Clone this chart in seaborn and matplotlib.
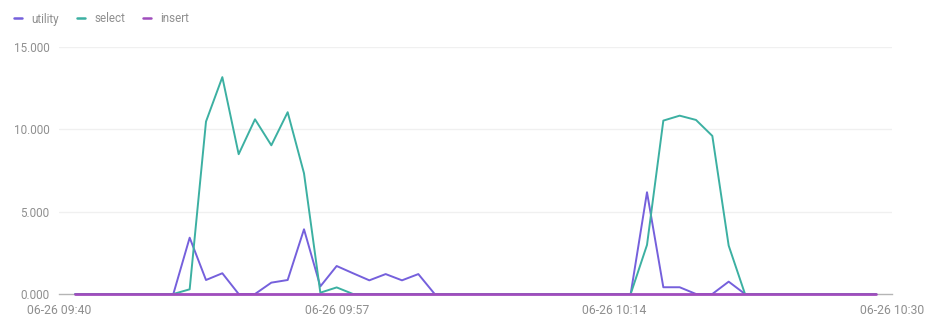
import matplotlib
matplotlib.use("Agg")
import matplotlib.pyplot as plt
from matplotlib.lines import Line2D
import seaborn as sns
import pandas as pd
import numpy as np

# ---- data (one point per minute, 09:41 .. 10:30) ----
times = [f"{h:02d}:{m:02d}" for h, m in
         [(9, mm) for mm in range(41, 60)] + [(10, mm) for mm in range(0, 31)]]

utility = [0, 0, 0, 0, 0, 0, 0, 3420, 850, 1260,
           0, 0, 690, 850, 3930, 460, 1700, 1260, 830, 1210,
           830, 1210, 0, 0, 0, 0, 0, 0, 0, 0,
           0, 0, 0, 0, 0, 6180, 410, 410, 0, 0,
           750, 0, 0, 0, 0, 0, 0, 0, 0, 0]
select = [0, 0, 0, 0, 0, 0, 0, 285, 10470, 13170,
          8490, 10610, 9030, 11040, 7330, 80, 400, 0, 0, 0,
          0, 0, 0, 0, 0, 0, 0, 0, 0, 0,
          0, 0, 0, 0, 0, 2980, 10530, 10830, 10570, 9600,
          2940, 0, 0, 0, 0, 0, 0, 0, 0, 0]
insert = [0] * 50

series_names = ["utility", "select", "insert"]
colors = ["#7560dc", "#3cb0a2", "#a04dbd"]
tick_labels = ["06-26 09:40", "06-26 09:57", "06-26 10:14", "06-26 10:30"]
y_ticks = [0, 5000, 10000, 15000]
y_tick_labels = ["0.000", "5.000", "10.000", "15.000"]

# ---- long-form table ----
pos = list(range(1, len(times) + 1))
df = pd.concat([
    pd.DataFrame({"pos": pos, "time": times, "value": vals, "series": name})
    for name, vals in zip(series_names, [utility, select, insert])
], ignore_index=True)

sns.set_style("white")
plt.rcParams["font.family"] = ["Roboto", "DejaVu Sans"]

W, H = 941, 326
fig = plt.figure(figsize=(W / 100, H / 100), dpi=100)
ax = fig.add_axes([59 / W, 32 / H, (892 - 59) / W, (294 - 47) / H])

sns.lineplot(data=df, x="pos", y="value", hue="series",
             hue_order=series_names, palette=dict(zip(series_names, colors)),
             linewidth=1.4, ax=ax, legend=False, clip_on=False)
# the flat insert series is drawn a little heavier, as in the reference
ax.lines[-1].set_linewidth(2.0)

ax.set_xlim(0, 51)
ax.set_ylim(0, 15000)
ax.set_xticks([0, 17, 34, 51])
ax.set_xticklabels(tick_labels)
ax.set_yticks(y_ticks)
ax.set_yticklabels(y_tick_labels)
ax.set_xlabel("")
ax.set_ylabel("")

ax.yaxis.grid(True, color="#f0f0f0", linewidth=1)
ax.xaxis.grid(False)
ax.set_axisbelow(True)
for s in ["top", "right", "left"]:
    ax.spines[s].set_visible(False)
ax.spines["bottom"].set_color("#b5b5b5")
ax.spines["bottom"].set_linewidth(1)
ax.spines["bottom"].set_zorder(0.5)

ax.tick_params(axis="x", length=4, width=1, color="#b5b5b5",
               labelsize=8.8, labelcolor="#8f8f8f", pad=3)
ax.tick_params(axis="y", length=0, labelsize=8.4, labelcolor="#8f8f8f", pad=7)

handles = [Line2D([0], [0], color=c, linewidth=1.8) for c in colors]
fig.legend(handles, series_names, loc="center left",
           bbox_to_anchor=(14 / W, 1 - 19 / H), ncol=3, frameon=False,
           handlelength=0.7, handletextpad=0.8, columnspacing=1.5,
           borderpad=0, borderaxespad=0, fontsize=8.4, labelcolor="#8f8f8f")

fig.savefig("out.png", dpi=100, facecolor="white")
